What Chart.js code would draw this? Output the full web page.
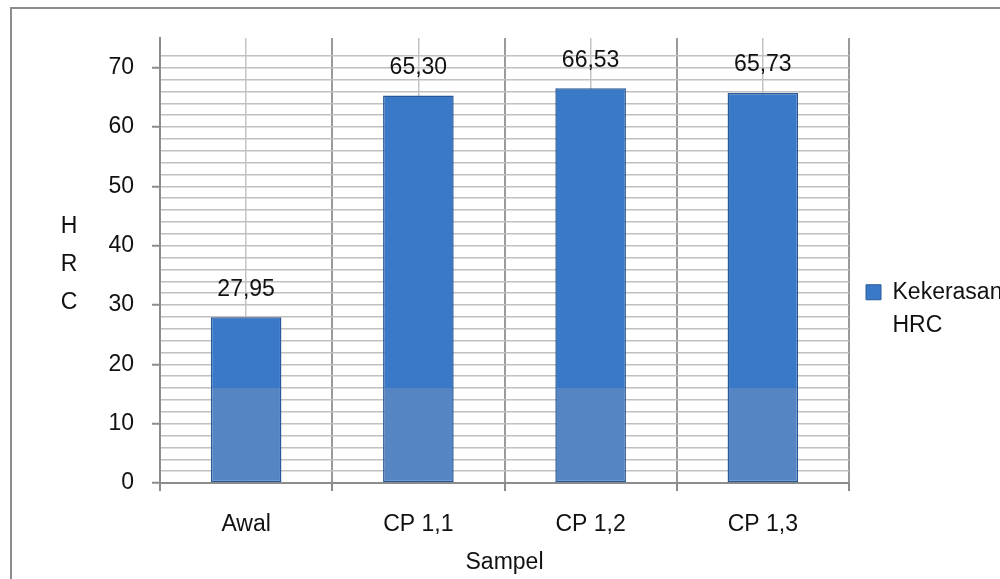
<!DOCTYPE html>
<html>
<head>
<meta charset="utf-8">
<title>Kekerasan HRC</title>
<script src="https://cdn.jsdelivr.net/npm/chart.js@4"></script>
<style>
    html, body { margin: 0; padding: 0; background: #fff; }
    #page { position: relative; width: 1000px; height: 579px; overflow: hidden; }
    #frame { position: absolute; left: 10px; top: 7px; width: 1100px; height: 700px; border: 2px solid #8c8c8c; box-sizing: border-box; }
    #chart-box { position: absolute; left: 0; top: 0; width: 1000px; height: 579px; }
</style>
</head>
<body>
<div id="page">
    <div id="frame"></div>
    <div id="chart-box"><canvas id="hrcChart"></canvas></div>
</div>
<script>
// data
var categories = ['Awal', 'CP 1,1', 'CP 1,2', 'CP 1,3'];
var hardness = [27.95, 65.30, 66.53, 65.73];
var seriesName = ['Kekerasan', 'HRC'];
var yAxisLetters = ['H', 'R', 'C'];
var xTitle = 'Sampel';
var yMax = 75;
var yMinorStep = 2;
var yLabelStep = 10;

var FONT = "'Liberation Sans', Arial, sans-serif";
var TEXT = '#111';
var barTop = '#3a78c8';
var barLow = '#5585c2';
var washLevel = 16; // lighter band at the bottom of the bars

function fmt(v) {
    return v.toFixed(2).replace('.', ',');
}

function barFill(ctx) {
    var chart = ctx.chart;
    var area = chart.chartArea;
    if (!area) return barTop;
    var yPix = chart.scales.y.getPixelForValue(washLevel);
    var f = (yPix - area.top) / (area.bottom - area.top);
    var g = chart.ctx.createLinearGradient(0, area.top, 0, area.bottom);
    g.addColorStop(0, barTop);
    g.addColorStop(f, barTop);
    g.addColorStop(Math.min(1, f + 0.001), barLow);
    g.addColorStop(1, barLow);
    return g;
}

// value labels above bars + stacked "H R C" axis title
var extras = {
    id: 'extras',
    afterDatasetsDraw(chart) {
        var c = chart.ctx;
        var meta = chart.getDatasetMeta(0);
        c.save();
        c.font = '23px ' + FONT;
        c.fillStyle = TEXT;
        c.textAlign = 'center';
        c.textBaseline = 'middle';
        meta.data.forEach((bar, i) => {
            c.fillText(fmt(hardness[i]), bar.x, bar.y - 28);
        });
        var mid = (chart.chartArea.top + chart.chartArea.bottom) / 2 + 4;
        yAxisLetters.forEach((ch, i) => {
            c.fillText(ch, 69, mid + (i - 1) * 38);
        });
        c.restore();
    }
};

var ctx = document.getElementById('hrcChart').getContext('2d');
var chart = new Chart(ctx, {
    type: 'bar',
    data: {
        labels: categories,
        datasets: [{
            label: seriesName.join(' '),
            data: hardness,
            backgroundColor: barFill,
            borderColor: '#285896',
            borderWidth: 1.5,
            borderSkipped: false,
            categoryPercentage: 1,
            barPercentage: 0.41
        }]
    },
    options: {
        responsive: true,
        maintainAspectRatio: false,
        animation: false,
        devicePixelRatio: 1,
        layout: { padding: { top: 38, left: 0, right: 0, bottom: 0 } },
        plugins: {
            tooltip: { enabled: false },
            legend: {
                position: 'right',
                maxWidth: 151,
                // empty title only nudges the entry down a little
                title: { display: true, text: ' ', color: TEXT, font: { size: 1 }, padding: 5 },
                labels: {
                    font: { family: FONT, size: 23, lineHeight: 1.45 },
                    color: TEXT,
                    boxWidth: 15,
                    boxHeight: 15,
                    padding: 17,
                    generateLabels: () => [{
                        text: seriesName,
                        fillStyle: barTop,
                        strokeStyle: '#2a5a96',
                        fontColor: TEXT,
                        lineWidth: 1,
                        datasetIndex: 0
                    }]
                }
            }
        },
        scales: {
            x: {
                type: 'category',
                offset: true,
                grid: {
                    offset: true,
                    color: '#9a9a9a',
                    lineWidth: 2,
                    tickLength: 8,
                    tickColor: '#8c8c8c'
                },
                border: { color: '#8c8c8c', width: 2 },
                ticks: {
                    font: { family: FONT, size: 23 },
                    color: TEXT,
                    padding: 20
                },
                title: {
                    display: true,
                    text: xTitle,
                    font: { family: FONT, size: 23 },
                    color: TEXT,
                    padding: { top: 0, bottom: 3 }
                },
                afterFit(scale) { scale.height = 96; }
            },
            xMid: {
                type: 'category',
                position: 'bottom',
                offset: true,
                grid: { offset: false, color: '#c4c4c4', lineWidth: 1.5, drawTicks: false },
                border: { display: false },
                ticks: { display: false },
                afterFit(scale) { scale.height = 0; }
            },
            y: {
                min: 0,
                max: yMax,
                afterBuildTicks(axis) {
                    axis.ticks = axis.ticks.filter(t => t.value <= yMax - 1);
                },
                grid: {
                    color: '#c0c0c0',
                    lineWidth: 1.5,
                    tickLength: 8,
                    tickColor: (c) => (c.tick && c.tick.value % yLabelStep === 0) ? '#8c8c8c' : 'rgba(0,0,0,0)',
                    tickWidth: 2
                },
                border: { color: '#8c8c8c', width: 2 },
                ticks: {
                    stepSize: yMinorStep,
                    autoSkip: false,
                    padding: 18,
                    font: { family: FONT, size: 23 },
                    color: TEXT,
                    callback: (v) => (v % yLabelStep === 0 ? v : '')
                },
                afterFit(scale) { scale.width = 160; }
            }
        }
    },
    plugins: [extras]
});
</script>
</body>
</html>
